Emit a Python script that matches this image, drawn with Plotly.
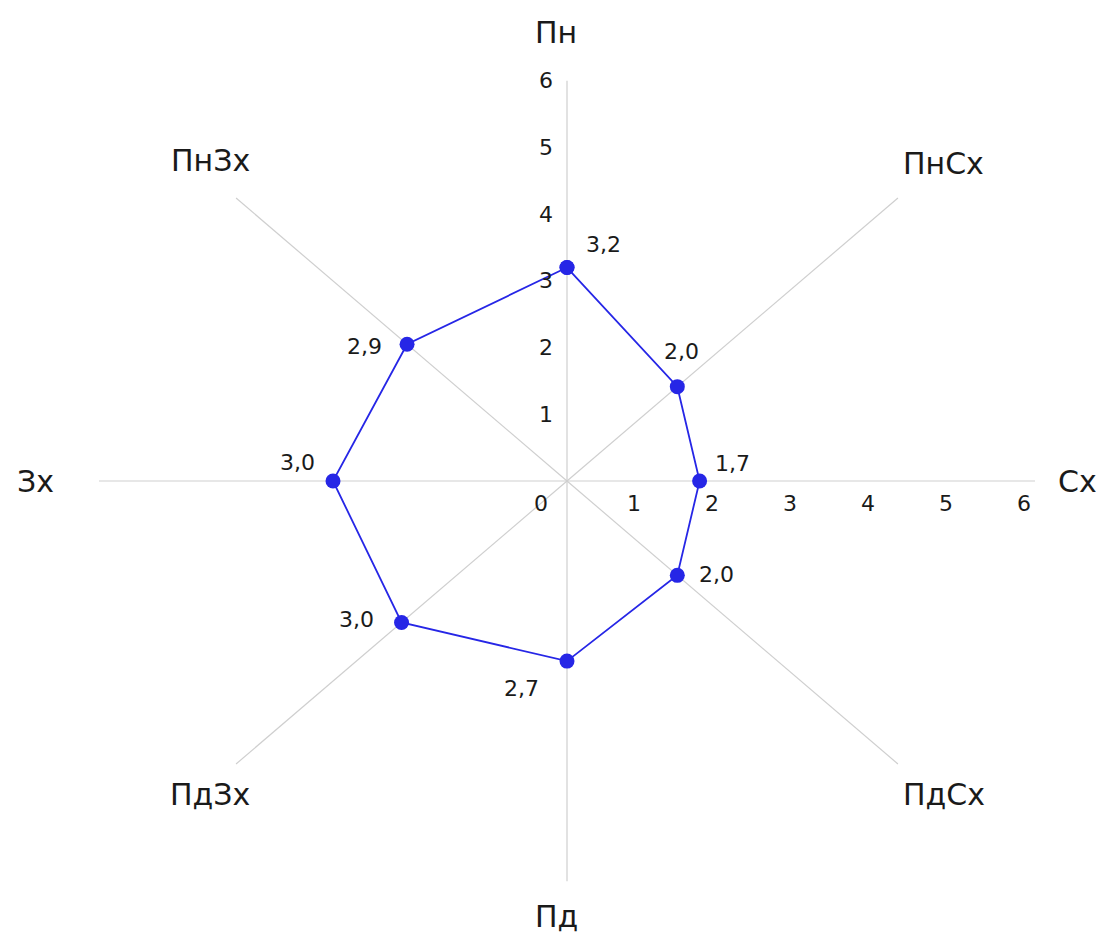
import math
import plotly.graph_objects as go

# ---- data ----
categories = ["Пн", "ПнСх", "Сх", "ПдСх", "Пд", "ПдЗх", "Зх", "ПнЗх"]
angles_deg = [90, 45, 0, -45, -90, -135, 180, 135]
values = [3.2, 2.0, 1.7, 2.0, 2.7, 3.0, 3.0, 2.9]
value_labels = ["3,2", "2,0", "1,7", "2,0", "2,7", "3,0", "3,0", "2,9"]
tick_values = [1, 2, 3, 4, 5, 6]
tick_labels = ["1", "2", "3", "4", "5", "6"]
r_max = 6

# ---- styling / layout constants ----
PAGE_OFF = 8               # browser body margin
W, H = 1104 - PAGE_OFF, 936 - PAGE_OFF
CX, CY = 567 - PAGE_OFF, 481 - PAGE_OFF   # centre pixel inside the figure
SX, SY = 78.0, 66.7        # pixels per unit
BLUE = "#2626e6"
GRID = "#cfcfcf"
TXT = "#1a1a1a"
FONT = "DejaVu Sans"

# label pixel offsets (xshift, yshift) for the value labels and category labels
val_shift = [(36, 23), (4, 35), (33, 18), (39, 1), (-46, -27), (-45, 3), (-36, 19), (-43, -2)]
cat_shift = [(-11, 48), (46, 35), (42, 0), (46, -31), (-11, -35), (-26, -31), (-64, 0), (-26, 38)]

def xy(r, a):
    t = math.radians(a)
    return r * math.cos(t), r * math.sin(t)

fig = go.Figure()

# spokes
for a in angles_deg:
    ex, ey = xy(r_max, a)
    fig.add_trace(go.Scatter(x=[0, ex], y=[0, ey], mode="lines",
                             line=dict(color=GRID, width=1.2),
                             hoverinfo="skip", showlegend=False))

# data polygon
pts = [xy(v, a) for v, a in zip(values, angles_deg)]
px = [p[0] for p in pts] + [pts[0][0]]
py = [p[1] for p in pts] + [pts[0][1]]
fig.add_trace(go.Scatter(x=px, y=py, mode="lines+markers",
                         line=dict(color=BLUE, width=1.8),
                         marker=dict(color=BLUE, size=15),
                         showlegend=False))

annotations = []
# value labels
for (x, y), lab, (dx, dy) in zip(pts, value_labels, val_shift):
    annotations.append(dict(x=x, y=y, text=lab, showarrow=False, xshift=dx, yshift=dy,
                            font=dict(family=FONT, size=22, color=TXT)))
# category labels
for cat, a, (dx, dy) in zip(categories, angles_deg, cat_shift):
    ex, ey = xy(r_max, a)
    annotations.append(dict(x=ex, y=ey, text=cat, showarrow=False, xshift=dx, yshift=dy,
                            font=dict(family=FONT, size=30, color=TXT)))
# vertical axis ticks
for v, lab in zip(tick_values, tick_labels):
    annotations.append(dict(x=0, y=v, text=lab, showarrow=False, xshift=-21,
                            font=dict(family=FONT, size=22, color=TXT)))
# horizontal axis ticks
for v, lab in zip(tick_values, tick_labels):
    annotations.append(dict(x=v, y=0, text=lab, showarrow=False, xshift=-11, yshift=-22,
                            font=dict(family=FONT, size=22, color=TXT)))
annotations.append(dict(x=0, y=0, text="0", showarrow=False, xshift=-26, yshift=-22,
                        font=dict(family=FONT, size=22, color=TXT)))

x_range = [-CX / SX, (W - CX) / SX]
y_range = [-(H - CY) / SY, CY / SY]

fig.update_layout(
    width=W, height=H,
    margin=dict(l=0, r=0, t=0, b=0),
    paper_bgcolor="white", plot_bgcolor="white",
    xaxis=dict(range=x_range, visible=False, fixedrange=True),
    yaxis=dict(range=y_range, visible=False, fixedrange=True),
    annotations=annotations,
    showlegend=False,
)

fig.write_html("out.html")
